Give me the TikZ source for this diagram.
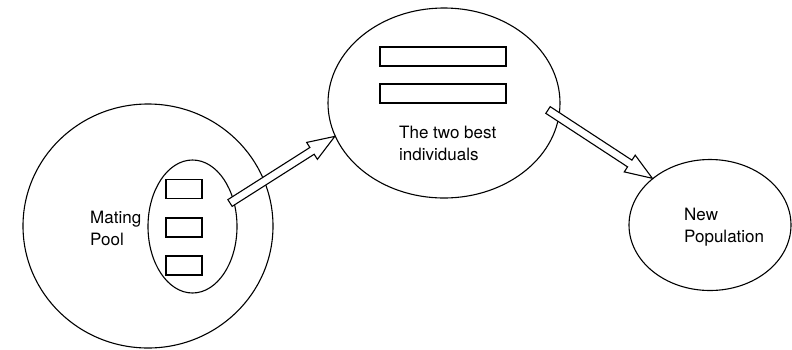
\documentclass[tikz,border=0pt]{standalone}
\usepackage{fontspec}
\setmainfont{TeX Gyre Heros}
\usetikzlibrary{shapes.geometric,calc}
\tikzset{
  blob/.style={ellipse,draw,line width=1.1pt,inner sep=0pt},
  slot/.style={rectangle,draw,line width=1.1pt,inner sep=0pt},
  lbl/.style={align=left,inner sep=0pt,anchor=base west,font=\fontsize{17}{22}\selectfont},
  fatarrow/.style={draw,fill=white,line width=1.1pt,line join=miter}
}
\newcommand\hollowarrow[2]{%
  \coordinate (hb) at ($(#2)!27pt!(#1)$);
  \path[fatarrow] ($(#1)!4pt!90:(#2)$) -- ($(hb)!4pt!90:(#2)$) -- ($(hb)!10pt!90:(#2)$) -- (#2)
    -- ($(hb)!10pt!-90:(#2)$) -- ($(hb)!4pt!-90:(#2)$) -- ($(#1)!4pt!-90:(#2)$) -- cycle;}
\begin{document}
\begin{tikzpicture}[x=1pt,y=-1pt]
\useasboundingbox (0,0) rectangle (792,349);
% big circle
\node[blob,minimum width=250pt,minimum height=244pt] (big) at (148,226) {};
\node[blob,minimum width=89pt,minimum height=133pt] (pool) at (192.5,226.5) {};
\node[slot,minimum width=36pt,minimum height=19pt] (r1) at (184,189) {};
\node[slot,minimum width=36pt,minimum height=19pt] (r2) at (184,227.5) {};
\node[slot,minimum width=36pt,minimum height=19pt] (r3) at (184,265.5) {};
\node[lbl] (mp) at (90,245) {Mating\\Pool};
% top ellipse
\node[blob,minimum width=232pt,minimum height=190pt] (best) at (444,103) {};
\node[slot,minimum width=126pt,minimum height=19pt] (b1) at (443,56.5) {};
\node[slot,minimum width=126pt,minimum height=19pt] (b2) at (443,93.5) {};
\node[lbl] (bt) at (399,160) {The two best\\individuals};
% right ellipse
\node[blob,minimum width=162pt,minimum height=131pt] (newp) at (710,225) {};
\node[lbl] (np) at (684,242) {New\\Population};
% arrows
\coordinate (t1) at (230,203);
\coordinate (t2) at (548,110);
\hollowarrow{t1}{best.197}
\hollowarrow{t2}{newp.141.6}
\end{tikzpicture}
\end{document}
